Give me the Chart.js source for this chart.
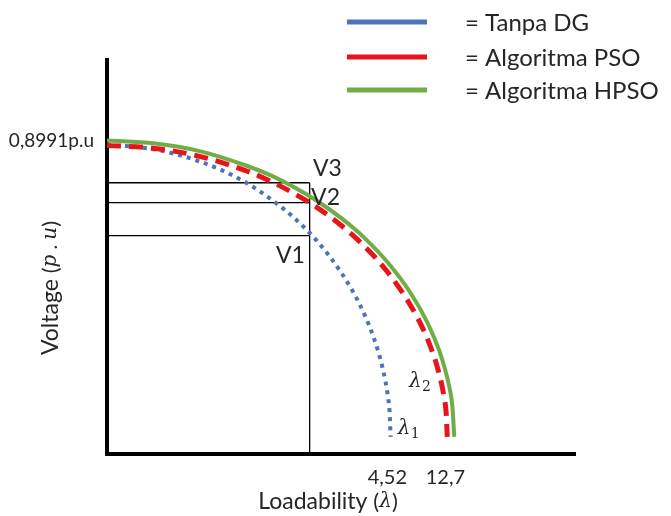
<!DOCTYPE html>
<html>
<head>
<meta charset="utf-8">
<script src="https://cdn.jsdelivr.net/npm/chart.js@4"></script>
<style>
  html, body { margin: 0; padding: 0; background: #fff; }
  #wrap { width: 671px; height: 516px; }
</style>
</head>
<body>
<div id="wrap"><canvas id="pvChart"></canvas></div>
<script>
// Curve readings (schematic units: x = loadability, y = voltage p.u.)
const seriesNames = ['Tanpa DG', 'Algoritma PSO', 'Algoritma HPSO']

const blueX = [0, 0.5, 1, 1.5, 2, 2.5, 3, 3.5, 4, 4.5, 5, 5.4, 5.7, 5.9, 6.0, 6.04, 6.06]
const blueY = [0.885, 0.882, 0.874, 0.859, 0.838, 0.811, 0.776, 0.731, 0.677, 0.609, 0.521, 0.429, 0.333, 0.240, 0.167, 0.117, 0.049]

const redX = [0, 1, 2, 3, 3.5, 4, 4.5, 5, 5.5, 6, 6.5, 6.8, 6.95, 7.05, 7.2, 7.25, 7.27]
const redY = [0.885, 0.877, 0.853, 0.811, 0.782, 0.747, 0.706, 0.656, 0.596, 0.521, 0.423, 0.345, 0.294, 0.253, 0.165, 0.112, 0.049]

const greenX = [0, 1, 2, 3, 3.5, 4, 4.5, 5, 5.5, 6, 6.5, 6.85, 7.1, 7.2, 7.3, 7.38, 7.42]
const greenY = [0.899, 0.891, 0.868, 0.826, 0.799, 0.765, 0.725, 0.677, 0.620, 0.549, 0.459, 0.376, 0.296, 0.254, 0.201, 0.137, 0.049]

// V1..V3 guide lines
const levelNames = ['V3', 'V2', 'V1']
const levelValues = [0.778, 0.721, 0.6265]
const loadMark = 4.33

// tick labels
const xTickValues = [5.99, 7.23]
const xTickLabels = ['4,52', '12,7']
const yTickValues = [0.8991]
const yTickLabels = ['0,8991p.u']

const colors = ['#4f73b8', '#e8141b', '#70ad47']
const textColor = '#262626'
const font = 'Lato'

function pts(xs, ys) {
  return xs.map((x, i) => ({ x: x, y: ys[i] }))
}

const guideSets = levelValues.map((v) => ({
  label: '',
  data: [{ x: 0, y: v }, { x: loadMark, y: v }],
  borderColor: '#000',
  borderWidth: 1.3,
  pointRadius: 0,
  order: 5,
}))
guideSets.push({
  label: '',
  data: [{ x: loadMark, y: 0 }, { x: loadMark, y: levelValues[0] }],
  borderColor: '#000',
  borderWidth: 1.3,
  pointRadius: 0,
  order: 5,
})

// text in two fonts, centred on x
function mixedText(ctx, parts, x, y) {
  let total = 0
  parts.forEach((p) => { ctx.font = p[1]; total += ctx.measureText(p[0]).width })
  let cx = x - total / 2
  ctx.textAlign = 'left'
  parts.forEach((p) => {
    ctx.font = p[1]
    ctx.fillText(p[0], cx, y)
    cx += ctx.measureText(p[0]).width
  })
}

// legend, titles and curve labels
const annotations = {
  id: 'annotations',
  afterDraw(chart) {
    const ctx = chart.ctx
    const xs = chart.scales.x
    const ys = chart.scales.y
    ctx.save()
    ctx.fillStyle = textColor
    ctx.textBaseline = 'middle'

    // legend
    const legendY = [22, 57, 90]
    seriesNames.forEach((name, i) => {
      ctx.strokeStyle = colors[i]
      ctx.lineWidth = 5
      ctx.beginPath()
      ctx.moveTo(347, legendY[i])
      ctx.lineTo(427, legendY[i])
      ctx.stroke()
      ctx.font = '24px ' + font
      ctx.textAlign = 'left'
      ctx.fillText('= ' + name, 465, legendY[i] + 1)
    })

    // V labels
    const vPos = [[4.71, 0.818], [4.67, 0.735], [3.92, 0.569]]
    ctx.font = '23px ' + font
    ctx.textAlign = 'center'
    levelNames.forEach((n, i) => {
      ctx.fillText(n, xs.getPixelForValue(vPos[i][0]), ys.getPixelForValue(vPos[i][1]))
    })

    // lambda labels
    const lamPos = [[6.45, 0.0715, '1'], [6.69, 0.206, '2']]
    lamPos.forEach((p) => {
      const px = xs.getPixelForValue(p[0])
      const py = ys.getPixelForValue(p[1])
      ctx.font = 'italic 20px "DejaVu Serif"'
      ctx.textAlign = 'left'
      ctx.fillText('λ', px - 11, py)
      ctx.font = '14px "DejaVu Serif"'
      ctx.fillText(p[2], px + 2, py + 5)
    })

    // axis titles
    const ital = 'italic 20px "DejaVu Serif"'
    mixedText(ctx, [['Loadability ', '23px ' + font], ['(', '22px ' + font], ['λ', ital], [')', '22px ' + font]], 328, 502)
    ctx.translate(51, 288)
    ctx.rotate(-Math.PI / 2)
    mixedText(ctx, [['Voltage ', '23px ' + font], ['(', '22px ' + font], ['p', ital], [' . ', '20px ' + font], ['u', ital], [')', '22px ' + font]], 0, 0)
    ctx.restore()
  },
}

new Chart(document.getElementById('pvChart'), {
  type: 'line',
  data: {
    datasets: [
      {
        label: seriesNames[0],
        data: pts(blueX, blueY),
        borderColor: colors[0],
        borderWidth: 4,
        borderDash: [4, 5],
        pointRadius: 0,
        cubicInterpolationMode: 'monotone',
        order: 2,
      },
      {
        label: seriesNames[1],
        data: pts(redX, redY),
        borderColor: colors[1],
        borderWidth: 5,
        borderDash: [14, 8],
        pointRadius: 0,
        cubicInterpolationMode: 'monotone',
        order: 0,
      },
      {
        label: seriesNames[2],
        data: pts(greenX, greenY),
        borderColor: colors[2],
        borderWidth: 4,
        pointRadius: 0,
        cubicInterpolationMode: 'monotone',
        order: 1,
      },
    ].concat(guideSets),
  },
  options: {
    responsive: true,
    maintainAspectRatio: false,
    animation: false,
    layout: { padding: { top: 60, right: 96, left: 0, bottom: 0 } },
    plugins: { legend: { display: false }, tooltip: { enabled: false } },
    scales: {
      x: {
        type: 'linear',
        min: 0,
        max: 10,
        grid: { display: false },
        border: { display: true, color: '#000', width: 4 },
        afterBuildTicks: (s) => { s.ticks = xTickValues.map((v) => ({ value: v })) },
        afterFit: (s) => { s.height = 62 },
        ticks: {
          autoSkip: false,
          maxRotation: 0,
          padding: 4,
          color: textColor,
          font: { family: font, size: 20 },
          callback: (v, i) => xTickLabels[i],
        },
      },
      y: {
        type: 'linear',
        min: 0,
        max: 1.13,
        grid: { display: false },
        border: { display: true, color: '#000', width: 4 },
        afterBuildTicks: (s) => { s.ticks = yTickValues.map((v) => ({ value: v })) },
        afterFit: (s) => { s.width = 107 },
        ticks: {
          autoSkip: false,
          padding: 5,
          color: textColor,
          font: { family: font, size: 19 },
          callback: (v, i) => yTickLabels[i],
        },
      },
    },
  },
  plugins: [annotations],
})
</script>
</body>
</html>
